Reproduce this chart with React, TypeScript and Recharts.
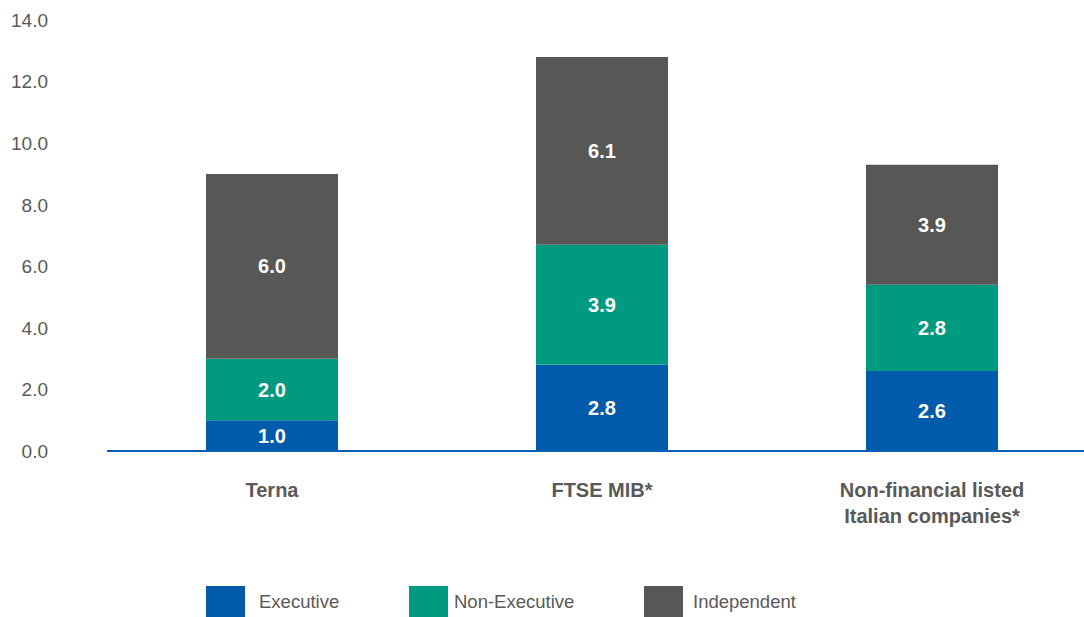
import { Bar, BarChart, XAxis, YAxis, LabelList } from "recharts";

const categories = ["Terna", "FTSE MIB*", "Non-financial listed\nItalian companies*"];
const executive = [1.0, 2.8, 2.6];
const nonExecutive = [2.0, 3.9, 2.8];
const independent = [6.0, 6.1, 3.9];
const yTicks = [0, 2, 4, 6, 8, 10, 12, 14];

const series = [
    { key: "executive", name: "Executive", color: "#005BAA" },
    { key: "nonExecutive", name: "Non-Executive", color: "#009A80" },
    { key: "independent", name: "Independent", color: "#575756" },
];

const legendLefts = [206, 409, 644];
const legendGaps = [14, 6, 10];

const data = categories.map((name, i) => ({
    name,
    executive: executive[i],
    nonExecutive: nonExecutive[i],
    independent: independent[i],
}));

const FONT = "'Liberation Sans', Arial, Helvetica, sans-serif";

function YTick({ y, payload }: any) {
    return (
        <text x={48} y={y} dy="0.36em" textAnchor="end" fill="#595959" fontSize={19} fontFamily={FONT}>
            {Number(payload.value).toFixed(1)}
        </text>
    );
}

function XTick({ x, y, payload }: any) {
    const lines = String(payload.value).split("\n");
    return (
        <text x={x} y={y} textAnchor="middle" fill="#595959" fontSize={20} fontWeight="bold" fontFamily={FONT}>
            {lines.map((l, i) => (
                <tspan key={i} x={x} dy={i === 0 ? 38 : 26}>
                    {l}
                </tspan>
            ))}
        </text>
    );
}

export default function App() {
    return (
        <div style={{ position: "absolute", left: 0, top: 0, width: 1084, height: 617, overflow: "hidden", background: "#fff" }}>
            <BarChart width={1100} height={617} data={data} margin={{ top: 20, right: 3, bottom: 0, left: 0 }} barSize={132}>
                <XAxis
                    dataKey="name"
                    height={166}
                    interval={0}
                    tickLine={false}
                    axisLine={{ stroke: "#0A5FB4", strokeWidth: 2 }}
                    tick={<XTick />}
                />
                <YAxis
                    width={107}
                    domain={[0, 14]}
                    ticks={yTicks}
                    axisLine={false}
                    tickLine={false}
                    tick={<YTick />}
                />
                {series.map((s) => (
                    <Bar key={s.key} dataKey={s.key} name={s.name} stackId="a" fill={s.color} isAnimationActive={false}>
                        <LabelList
                            dataKey={s.key}
                            position="center"
                            fill="#fff"
                            fontSize={20}
                            fontWeight="bold"
                            fontFamily={FONT}
                            formatter={(v: any) => Number(v).toFixed(1)}
                        />
                    </Bar>
                ))}
            </BarChart>
            {series.map((s, i) => (
                <div
                    key={s.key}
                    style={{ position: "absolute", left: legendLefts[i], top: 586, height: 31, display: "flex", alignItems: "center" }}
                >
                    <div style={{ width: 39, height: 31, background: s.color }} />
                    <span style={{ marginLeft: legendGaps[i], fontFamily: FONT, fontSize: 18.5, color: "#595959" }}>{s.name}</span>
                </div>
            ))}
        </div>
    );
}
